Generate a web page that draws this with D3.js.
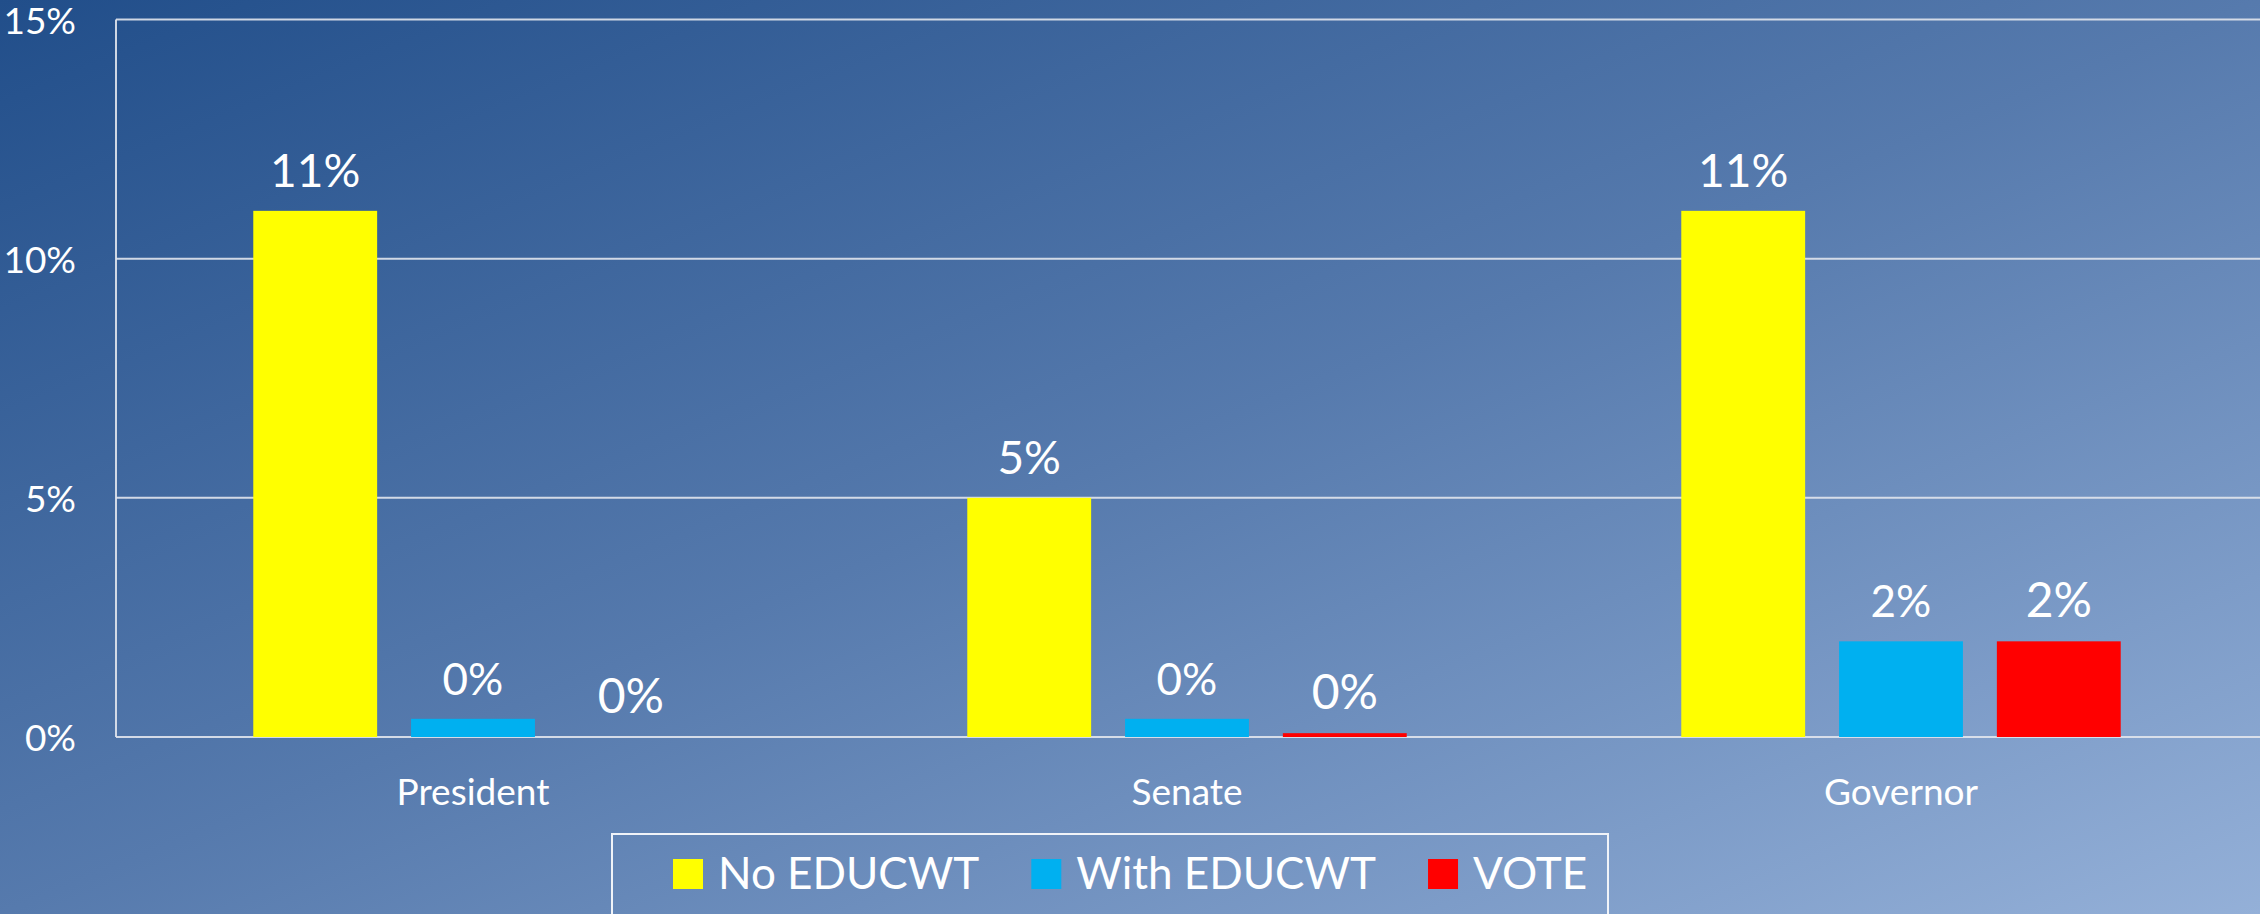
<!DOCTYPE html>
<html>
<head>
<meta charset="utf-8">
<script src="https://cdn.jsdelivr.net/npm/d3@7"></script>
<style>
  html, body { margin: 0; padding: 0; overflow: hidden; }
  #svgElement { width: 2260px; height: 914px; }
  text { font-family: Lato, "Open Sans", sans-serif; fill: #ffffff; }
</style>
</head>
<body>
<div id="svgElement"></div>
<script>
// chart data
var categories = ["President", "Senate", "Governor"];
var seriesNames = ["No EDUCWT", "With EDUCWT", "VOTE"];
var noEducwt = [11, 5, 11];
var withEducwt = [0.38, 0.38, 2];
var vote = [0, 0.08, 2];
var yTicks = [0, 5, 10, 15];

var seriesValues = [noEducwt, withEducwt, vote];
var colors = ["#ffff00", "#00b0f0", "#ff0000"];
var labelSize = [46, 44, 48]; // red labels come out a bit bigger in the original

var innerWidth = 2260, innerHeight = 914;
var margin = { top: 19.5, right: 2, bottom: 177, left: 116 },
    width = innerWidth - margin.left - margin.right,
    height = innerHeight - margin.top - margin.bottom;

var svg = d3.select("#svgElement").append("svg")
    .attr("width", innerWidth)
    .attr("height", innerHeight);

// background gradient, dark top-left to light bottom-right
var grad = svg.append("defs").append("linearGradient")
    .attr("id", "bg")
    .attr("x1", 0).attr("y1", 0).attr("x2", 1).attr("y2", 1);
grad.append("stop").attr("offset", "0%").attr("stop-color", "#214e8a");
grad.append("stop").attr("offset", "50%").attr("stop-color", "#567aad");
grad.append("stop").attr("offset", "100%").attr("stop-color", "#94b0d8");

svg.append("rect")
    .attr("width", innerWidth)
    .attr("height", innerHeight)
    .attr("fill", "url(#bg)");

var g = svg.append("g")
    .attr("transform", "translate(" + margin.left + "," + margin.top + ")");

var xScale = d3.scaleBand()
    .domain(categories)
    .range([0, width]);

var xInner = d3.scaleBand()
    .domain(seriesNames)
    .range([0, xScale.bandwidth()])
    .paddingInner(0.215)
    .paddingOuter(0.87);

var yScale = d3.scaleLinear()
    .domain([0, 15])
    .range([height, 0]);

// gridlines
g.append("g")
    .selectAll("line")
    .data(yTicks)
    .enter().append("line")
    .attr("x1", 0)
    .attr("x2", width + margin.right)
    .attr("y1", function(d) { return yScale(d); })
    .attr("y2", function(d) { return yScale(d); })
    .attr("stroke", "#e2e6ee")
    .attr("stroke-width", 2)
    .attr("opacity", 0.9);

// left axis line
g.append("line")
    .attr("x1", 0).attr("x2", 0)
    .attr("y1", yScale(15)).attr("y2", yScale(0))
    .attr("stroke", "#e2e6ee")
    .attr("stroke-width", 2)
    .attr("opacity", 0.9);

// y axis labels
var yAxis = g.append("g")
    .attr("transform", "translate(-40,0)")
    .call(d3.axisLeft(yScale).tickValues(yTicks).tickSize(0).tickFormat(function(d) { return d + "%"; }));
yAxis.select(".domain").remove();
yAxis.selectAll("text")
    .attr("x", 0)
    .attr("dy", null)
    .attr("y", 13.5)
    .style("font-size", "37px")
    .style("font-family", "Lato, sans-serif")
    .attr("fill", "#ffffff");

// x axis labels
var xAxis = g.append("g")
    .attr("transform", "translate(0," + height + ")")
    .call(d3.axisBottom(xScale).tickSize(0));
xAxis.select(".domain").remove();
xAxis.selectAll("text")
    .attr("y", 68)
    .attr("dy", null)
    .style("font-size", "37px")
    .style("font-family", "Lato, sans-serif")
    .attr("fill", "#ffffff");

// bars
var groups = g.selectAll(".series")
    .data(seriesNames)
    .enter().append("g")
    .attr("class", "series");

groups.each(function(name, si) {
    var grp = d3.select(this);
    var vals = seriesValues[si];

    grp.selectAll("rect")
        .data(vals)
        .enter().append("rect")
        .attr("x", function(d, i) { return xScale(categories[i]) + xInner(name); })
        .attr("y", function(d) { return yScale(d); })
        .attr("width", xInner.bandwidth())
        .attr("height", function(d) { return height - yScale(d); })
        .attr("fill", colors[si]);

    grp.selectAll("text")
        .data(vals)
        .enter().append("text")
        .attr("x", function(d, i) { return xScale(categories[i]) + xInner(name) + xInner.bandwidth() / 2; })
        .attr("y", function(d) { return yScale(d) - 24; })
        .attr("text-anchor", "middle")
        .style("font-size", labelSize[si] + "px")
        .text(function(d) { return Math.round(d) + "%"; });
});

// legend
var legend = svg.append("g");
legend.append("rect")
    .attr("x", 612)
    .attr("y", 834)
    .attr("width", 996)
    .attr("height", 120)
    .attr("fill", "none")
    .attr("stroke", "#f0f3f8")
    .attr("stroke-width", 2);

var items = legend.selectAll(".item")
    .data(seriesNames)
    .enter().append("g")
    .attr("class", "item");

items.append("rect")
    .attr("width", 30)
    .attr("height", 30)
    .attr("y", 859)
    .attr("fill", function(d, i) { return colors[i]; });

items.append("text")
    .attr("x", 45)
    .attr("y", 889)
    .style("font-size", "44px")
    .text(function(d) { return d; });

// lay out items one after another from the left of the box
var widths = [];
items.each(function() {
    widths.push(45 + d3.select(this).select("text").node().getComputedTextLength());
});
var gap = 52;
var xpos = 673;
items.each(function(d, i) {
    d3.select(this).select("rect").attr("x", xpos);
    d3.select(this).select("text").attr("x", xpos + 45);
    xpos += widths[i] + gap;
});
</script>
</body>
</html>
